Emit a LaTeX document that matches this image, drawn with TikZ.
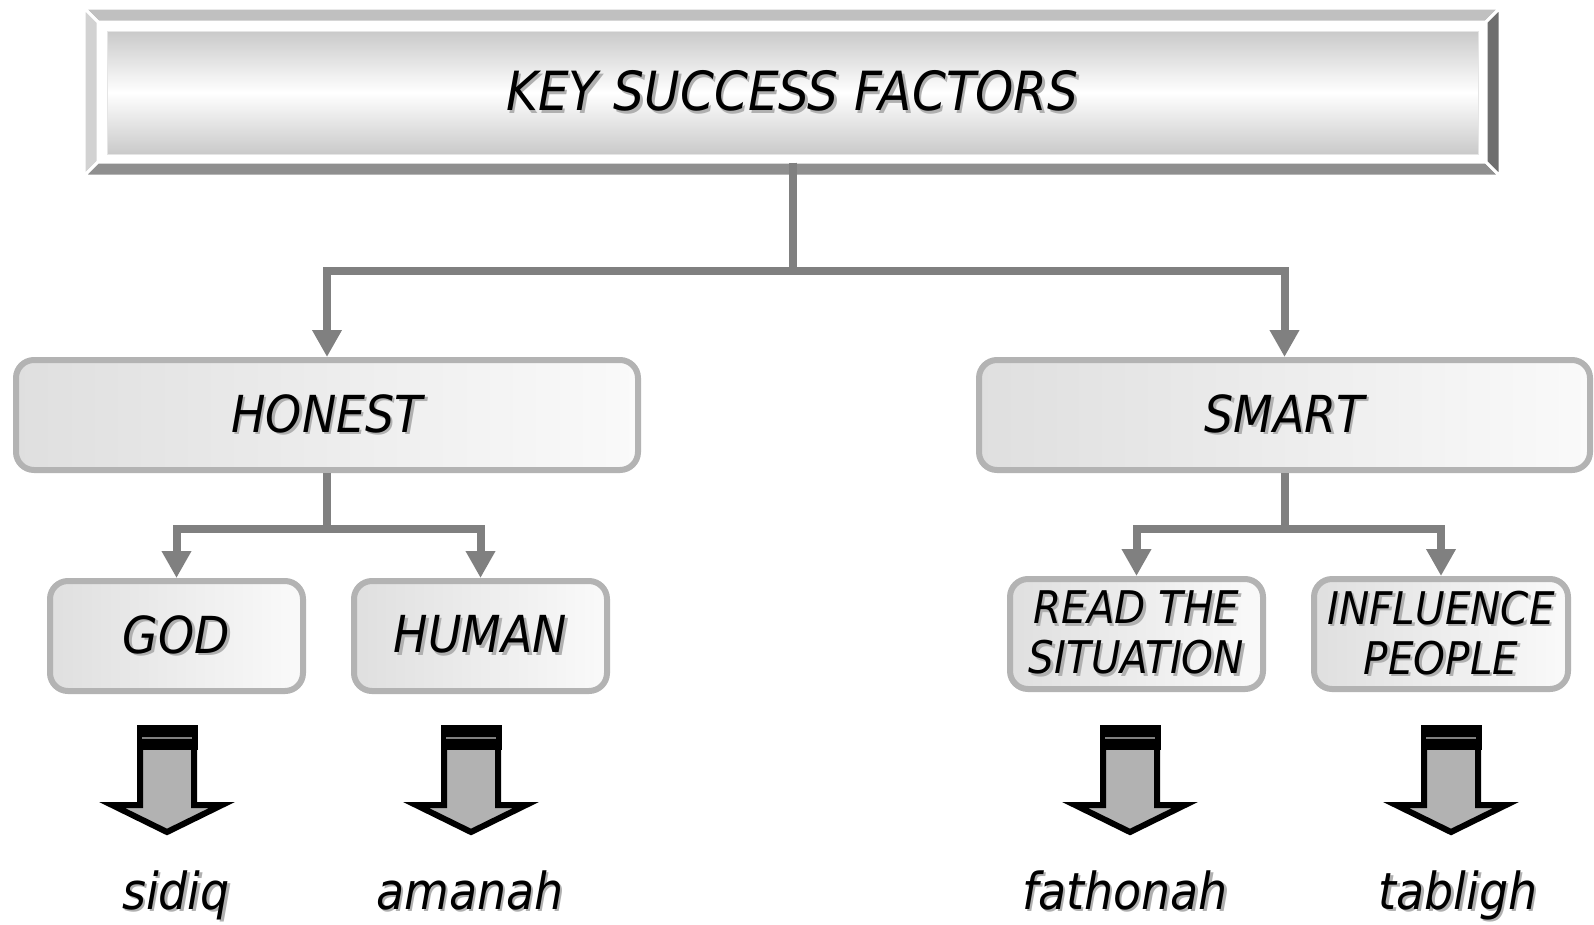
\documentclass[tikz,border=0pt]{standalone}
\usepackage{fontspec}
\newfontfamily\kfont{DejaVu Sans Condensed Oblique}
\usetikzlibrary{arrows.meta,positioning}
\definecolor{linegray}{HTML}{808080}
\definecolor{boxgray}{HTML}{B3B3B3}
\definecolor{bevtop}{HTML}{C0C0C0}
\definecolor{bevleft}{HTML}{D2D2D2}
\definecolor{bevbot}{HTML}{8F8F8F}
\definecolor{bevright}{HTML}{6E6E6E}
\definecolor{shgray}{HTML}{B0B0B0}
\newcommand\shtxt[1]{\makebox[0pt][l]{\kern2.5pt\raisebox{-2.5pt}{\textcolor{shgray}{#1}}}#1}

\begin{document}
\begin{tikzpicture}[x=1pt,y=-1pt,
  conn/.style={draw=linegray,line width=8pt,-{Triangle[width=28pt,length=27pt]}},
  kbox/.style={draw=boxgray,line width=6pt,rounded corners=18pt,left color=gray!25,right color=gray!4,
    inner sep=0pt,minimum height=110pt,align=center},
  bigtxt/.style={font=\fontsize{51}{60}\kfont},
  smalltxt/.style={font=\fontsize{45}{50}\kfont},
  bev/.style={draw=white,line width=3pt},
  barrow/.style={fill=gray!60,draw=black,line width=6pt,line join=miter},
  word/.style={font=\fontsize{51}{60}\kfont,anchor=base}]
\useasboundingbox (0,0) rectangle (1594,924);

% title frame
\filldraw[bev,fill=bevtop] (84,8) -- (1500,8) -- (1486,22) -- (98,22) -- cycle;
\filldraw[bev,fill=bevleft] (84,8) -- (98,22) -- (98,162) -- (84,176) -- cycle;
\filldraw[bev,fill=bevbot] (84,176) -- (98,162) -- (1486,162) -- (1500,176) -- cycle;
\filldraw[bev,fill=bevright] (1500,8) -- (1500,176) -- (1486,162) -- (1486,22) -- cycle;
\node (ttl) at (792.5,92.5) [draw=gray!20,line width=1pt,minimum width=1371pt,minimum height=123pt,
  top color=gray!42,bottom color=gray!42,middle color=white,inner sep=0pt,
  font=\fontsize{54}{60}\kfont]{\raisebox{-3pt}{\shtxt{KEY SUCCESS FACTORS}}};

\node (hon) at (327,415) [kbox,bigtxt,minimum width=622pt]{\shtxt{HONEST}};
\node (smt) at (1284.5,415) [kbox,bigtxt,minimum width=611pt]{\shtxt{SMART}};
\node (god) at (176.5,636) [kbox,bigtxt,minimum width=253pt]{\shtxt{GOD}};
\node (hum) at (480.5,636) [kbox,bigtxt,minimum width=253pt]{\shtxt{HUMAN}};
\node (rea) at (1136.5,634) [kbox,smalltxt,minimum width=253pt]{\shtxt{READ THE}\\\shtxt{SITUATION}};
\node (inf) at (1441,634) [kbox,smalltxt,minimum width=254pt]{\shtxt{INFLUENCE}\\\shtxt{PEOPLE}};

\draw[conn] ([yshift=-8pt]ttl.south) -- ++(0,108) -| (hon.north);
\draw[conn] ([yshift=-8pt]ttl.south) -- ++(0,108) -| (smt.north);
\draw[conn] (hon.south) -- ++(0,56) -| (god.north);
\draw[conn] (hon.south) -- ++(0,56) -| (hum.north);
\draw[conn] (smt.south) -- ++(0,56) -| (rea.north);
\draw[conn] (smt.south) -- ++(0,56) -| (inf.north);

\foreach \ax/\wx/\w in {167/176/sidiq,471/470/amanah,1130/1125/fathonah,1451/1458/tabligh} {
\filldraw[barrow] ({\ax-27},746) -- ({\ax+27},746) -- ({\ax+27},805) -- ({\ax+55},805)
  -- (\ax,832) -- ({\ax-55},805) -- ({\ax-27},805) -- cycle;
\fill ({\ax-30.5},725) rectangle ({\ax+30.5},750);
\draw[gray,line width=1.5pt] ({\ax-25},738) -- ({\ax+25},738);
\node (\w) at (\wx,909) [word]{\shtxt{\w}};}
\end{tikzpicture}
\end{document}
